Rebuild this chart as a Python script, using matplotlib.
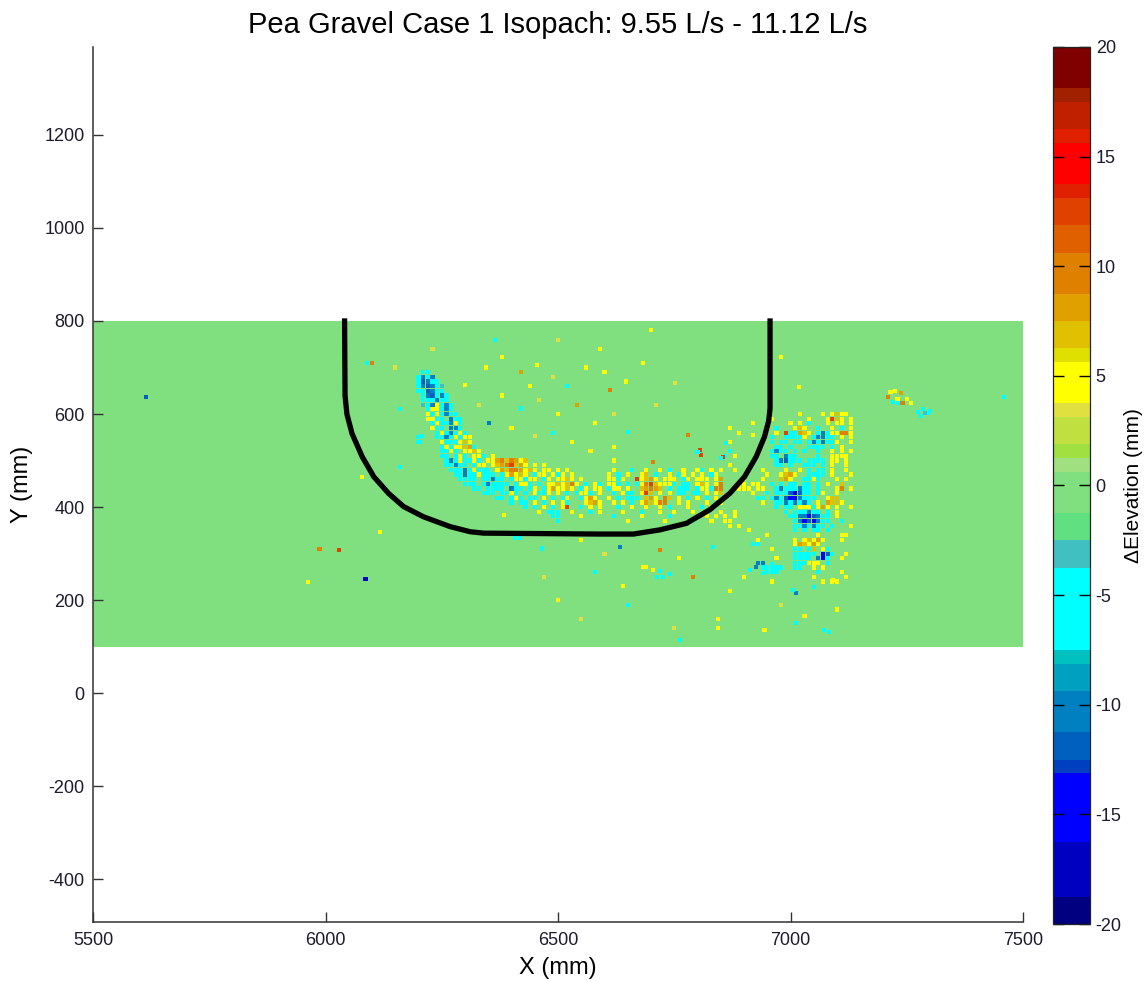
import numpy as np
import matplotlib
matplotlib.use("Agg")
import matplotlib.pyplot as plt
from matplotlib.colors import ListedColormap, Normalize
from matplotlib.cm import ScalarMappable

plt.rcParams['font.family'] = ['Liberation Sans', 'DejaVu Sans']
plt.rcParams['axes.unicode_minus'] = False

# ---------------------------------------------------------------- labels
title = "Pea Gravel Case 1 Isopach: 9.55 L/s - 11.12 L/s"
x_label = "X (mm)"
y_label = "Y (mm)"
cbar_label = "\u0394Elevation (mm)"
x_ticks = [5500, 6000, 6500, 7000, 7500]
y_ticks = [-400, -200, 0, 200, 400, 600, 800, 1000, 1200]
cbar_ticks = [-20, -15, -10, -5, 0, 5, 10, 15, 20]
x_limits = [5500, 7500]
y_limits = [-492, 1389]
z_limits = [-20, 20]

# ---------------------------------------------------------------- survey extent
field_x = [5500, 7500]
field_y = [100, 800]

# ---------------------------------------------------------------- flume wall (mm)
wall_x = [6041, 6042, 6046, 6057, 6079, 6104, 6136, 6168, 6211, 6268, 6311,
          6340, 6590, 6662, 6719, 6776, 6826, 6869, 6901, 6926, 6944, 6953,
          6956, 6956]
wall_y = [800, 640, 600, 558, 508, 465, 429, 401, 379, 358, 347,
          344, 342, 342, 351, 365, 394, 429, 465, 508, 551, 585,
          612, 800]

# ---------------------------------------------------------------- colour scale (64 steps)
scale_colors = ['#000080', '#0000C0', '#0000FF', '#0040C0', '#0060C0', '#0080C0',
                '#00A0C0', '#00C0C0', '#00FFFF', '#40C0C0', '#60E080', '#80E080',
                '#A0E080', '#A0E040', '#C0E040', '#E0E040', '#FFFF00', '#E0E000',
                '#E0C000', '#E0A000', '#E08000', '#E06000', '#E04000', '#E02000',
                '#FF0000', '#E02000', '#C02000', '#A02000', '#800000']
scale_counts = [2, 4, 5, 1, 2, 3, 2, 1, 6, 2, 2, 3, 1, 1, 2, 1, 3, 1, 2, 2, 3,
                2, 2, 1, 3, 1, 2, 1, 3]

# elevation change (mm) for each symbol of the cell maps
code_values = {'c': -5.0, 't': -3.0, 'm': -8.5, 'b': -10.0, 'B': -12.0,
               'd': -14.0, 'n': -17.0, 'g': 1.0, 'p': 3.4, 'y': 4.5,
               'o': 7.0, 'a': 8.0, 'r': 9.5, 'R': 12.5}
cell = 10  # mm

# scour/deposit band along the inner bend: top-left corner (x, y) in mm
head_origin = (6200, 690)
head_rows = [
    ".cc",
    "cbcb",
    "cBbcc",
    "cbBbct",
    "ccBbcc",
    ".cbBcbc",
    ".cccbcc",
    ".tcbycbc",
    "..cyycbc",
    "..ycycbcc",
    "..yycc.bcc",
    "...cyccbyc",
    "...ycc.bbc",
    "....cycbcyc",
    "c...ccbcycyy",
    "c....ycccyoy",
    ".....cycyyoac",
    ".....ccyc.yyoy",
    ".....cc.cyc.yyc.y",
    "......cbcyccyc.yyarorayo",
    "......ccbcc.cyy.yoarRoay.y.y",
    ".......cccbcyccc.yaorrayoy.yy.y.y",
    "........ccbccyccc.cyayoy.cyy.ycy.y",
    ".........cccc.ccbcc.cyycyy.cy.yyoy.y",
    "..........ccc.cbcccc.cyyc.c.yyoyory.c.yc",
    "............cc.cccc.bcc.cy.cyayyoy.cy.yy",
    "..............ccc.ccyc.c.yccy.y.c.cyyc.y",
    ".................cc.cyc.cc.y.c.cy..cyay.",
    "....................c.cc.y.c.y.yc...yoay",
    ".......................c.c.y.c.yR..c.y.y",
    "..........................y.ccc..y...c.y",
    ".............................cc....y....",
    "..............................c.........",
]

tail_origin = (6610, 480)
tail_rows = [
    ".y...c..y..y.c..y..yc.y.y",
    "y.c.y..yo.c..y.cy.y.y.cy.",
    "yycy..Ryoay.yyy.cy.yyy.ya",
    "yyc.c.cyrRoyyyc.cc.yoy.yr",
    "cyy.y..oarao.c.ccc.cyycrr",
    ".c.ycc.yRo.y.y.cc.cc.y.yo",
    "y.c.ccc.oay.ro.y.c.y.c.y.",
    ".y.y.c.yaoyrr..y.y...y..y",
    "..c..y..y..y.c...y..c.y..",
    "...y...c...y..y...y.....y",
    ".c.....y.....c.......y.y.",
    "....y.......y.....c...y..",
]

right_origin = (6860, 600)
right_rows = [
    "................y....y.yoyy",
    "..........y.......y...yRoy.y",
    "......y.......y.y.c...y.yy.y",
    ".y.........c...yoy..c..y.c.y",
    "...y.......y.Rccaoy.cbcyyrry",
    "..........c..ccccy.cbbcc.y.y",
    ".y........c.cc.cc.cbcbccy..y",
    "...........cc.c...cccc.c.y..",
    ".c........cbcc.c.c..c..y.y.y",
    "c.y.......cc.bcc....c..yyyy.",
    "...........cbBccc.cccc.yy.y.",
    ".y.........cc.c..ccc.c.y..y.",
    "..y.....y....y..y.c.cc.y..y.",
    ".........y..yoay..cccc.y...y",
    "....y...y...oay..ccyc...y.y.",
    "...yy.yy..c.c.cc.cc.c.y..o..",
    "...yyy.yy..cbcccbcc.c...yr.y",
    "......y..c.cccBdBcc.cy..y...",
    ".......cc.cbcBddbccc..yoo...",
    "........y..ccbcbcbc.y.aooy..",
    "...........c.cc.yyycyay.y..y",
    "..y..........c.cccbcc.c.y...",
    "y.y...........ccbbdBbcc.y...",
    "yy.............cbdBdbcc..c..",
    ".y.y...........ccbcbcc.c...y",
    ".....y.........c.c.cc.c.....",
    ".........y..........y....yy.",
    ".......y.......y.yoyay...y..",
    "......cc.......yaoyay.......",
    "..........y....cc.co.yc.....",
    "...............ccccc.dBc..y.",
    "...........y...cccc.bdc..y..",
    ".......bb......cccyyy.c.....",
    "........ccccc..cc..y.y......",
    ".........ccc........c....y..",
    "....y..............y......y.",
    "..........y..........y.yy...",
]

# isolated specks above the band and inside the bend
upper_x = [6345, 6380, 6420, 6455, 6490, 6520, 6560, 6600, 6612, 6380, 6420,
           6460, 6500, 6540, 6580, 6620, 6650, 6400, 6450, 6490, 6530, 6570,
           6620, 6352, 6330, 6300, 6365, 6500, 6700, 6683, 6647, 6751, 6805,
           6808, 6855, 6862, 6919, 6980, 7019, 6800, 6780, 6705, 6851, 6230,
           6150, 6160, 6090, 6100, 6440, 6590, 6710, 6620]
upper_y = [700, 722, 690, 706, 680, 660, 700, 690, 652, 640, 612,
           630, 600, 620, 580, 600, 562, 570, 552, 560, 540, 520,
           530, 580, 620, 662, 760, 760, 780, 709, 670, 666, 523,
           512, 508, 537, 555, 723, 659, 519, 555, 497, 505, 740,
           700, 610, 710, 710, 660, 740, 620, 500]
upper_v = [4.5, 4.5, 8.0, 4.5, 3.4, -5.0, 4.5, 4.5, 9.5, 4.5, -5.0,
           3.4, 4.5, 8.0, 4.5, 3.4, -5.0, 4.5, 3.4, -5.0, 4.5, 4.5,
           4.5, -10.0, 3.4, 4.5, -5.0, 3.4, 4.5, 4.5, 4.5, 3.4, 12.5,
           12.5, 12.5, -5.0, 4.5, 4.5, 4.5, -5.0, 9.5, 9.5, -5.0, 3.4,
           3.4, -5.0, -5.0, 9.5, 4.5, 4.5, 3.4, 4.5]

# isolated specks below the band and elsewhere on the bed
lower_x = [6712, 6726, 6740, 6720, 6690, 6705, 6790, 6760, 6833, 6912, 6925,
           6940, 6960, 6633, 6719, 6683, 7012, 7030, 6762, 6418, 6408, 6383,
           6465, 6029, 6118, 6079, 6161, 6204, 6207, 6086, 5963, 5987, 5614,
           7459, 7012, 7005, 7051, 7091, 7072, 7082, 6944, 6844, 6844, 6550,
           6600, 6580, 6640, 6470, 6500, 6550, 6870, 6980, 7100, 6650, 6750]
lower_y = [250, 250, 257, 262, 272, 265, 250, 290, 315, 265, 272,
           258, 278, 315, 308, 272, 150, 165, 114, 333, 333, 383,
           311, 307, 347, 465, 487, 540, 553, 245, 239, 310, 637,
           637, 215, 222, 229, 243, 135, 132, 135, 160, 140, 330,
           300, 260, 230, 250, 200, 160, 220, 190, 180, 190, 140]
lower_v = [-5.0, -5.0, -5.0, -5.0, 4.5, 4.5, 9.5, 4.5, -5.0, -5.0, -10.0,
           -5.0, -5.0, -10.0, 9.5, 4.5, -5.0, 4.5, -5.0, -5.0, -5.0, 4.5,
           -5.0, 12.5, 4.5, 4.5, -5.0, -5.0, -5.0, -17.0, 4.5, 9.5, -12.0,
           -5.0, -10.0, -5.0, -5.0, 4.5, -5.0, -5.0, 4.5, 4.5, 4.5, 4.5,
           3.4, -5.0, 4.5, 3.4, 4.5, 3.4, 4.5, 3.4, 4.5, -5.0, 3.4]

# small deposit and scour pair downstream of the bend
patch_x = [7209, 7215, 7225, 7237, 7241, 7250, 7260, 7230, 7220, 7232,
           7275, 7285, 7295, 7280, 7290, 7300]
patch_y = [637, 647, 650, 645, 623, 632, 624, 632, 626, 624,
           605, 610, 602, 596, 603, 606]
patch_v = [9.5, 4.5, 4.5, 8.0, 9.5, 4.5, 4.5, 4.5, -5.0, -5.0,
           -5.0, -5.0, -5.0, -5.0, -3.0, -5.0]


def cells_from_rows(origin, rows):
    xs, ys, vs = [], [], []
    x0, y0 = origin
    for j, row in enumerate(rows):
        for i, ch in enumerate(row):
            if ch in code_values:
                xs.append(x0 + cell * i)
                ys.append(y0 - cell * j)
                vs.append(code_values[ch])
    return xs, ys, vs


# ---------------------------------------------------------------- figure
fig = plt.figure(figsize=(11.47, 9.81), dpi=100)
ax = fig.add_axes([0.0811, 0.0601, 0.8108, 0.8920])
cax = fig.add_axes([0.9181, 0.0581, 0.0323, 0.8940])

colors = [c for c, n in zip(scale_colors, scale_counts) for _ in range(n)]
cmap = ListedColormap(colors)
norm = Normalize(vmin=z_limits[0], vmax=z_limits[1])

# undisturbed bed
ax.pcolormesh(field_x, field_y, np.zeros((1, 1)), cmap=cmap, norm=norm,
              shading='flat', zorder=1)

# elevation change cells
all_x, all_y, all_v = [], [], []
for origin, rows in [(head_origin, head_rows), (tail_origin, tail_rows),
                     (right_origin, right_rows)]:
    xs, ys, vs = cells_from_rows(origin, rows)
    all_x += xs
    all_y += ys
    all_v += vs
all_x += upper_x + lower_x + patch_x
all_y += upper_y + lower_y + patch_y
all_v += upper_v + lower_v + patch_v

ax.scatter(all_x, all_y, c=all_v, cmap=cmap, norm=norm, marker='s',
           s=9, linewidths=0, zorder=2)

# flume wall
ax.plot(wall_x, wall_y, color='black', lw=3.8, solid_joinstyle='round',
        zorder=3)

ax.set_xlim(x_limits)
ax.set_ylim(y_limits)
ax.set_xticks(x_ticks)
ax.set_yticks(y_ticks)
for side in ['top', 'right']:
    ax.spines[side].set_visible(False)
for side in ['left', 'bottom']:
    ax.spines[side].set_color('#333333')
    ax.spines[side].set_linewidth(1.1)
ax.tick_params(direction='in', length=7, width=1.0, color='#333333',
               labelsize=13, labelcolor='#1c1c2c')
ax.tick_params(axis='y', pad=6)
ax.tick_params(axis='x', pad=7)
ax.set_title(title, fontsize=21, pad=10)
ax.set_xlabel(x_label, fontsize=17, labelpad=6)
ax.set_ylabel(y_label, fontsize=17, labelpad=8)

cb = fig.colorbar(ScalarMappable(norm=norm, cmap=cmap), cax=cax,
                  ticks=cbar_ticks)
cb.outline.set_linewidth(0.9)
cb.outline.set_edgecolor('#222222')
cax.tick_params(direction='in', length=8, width=1.0, left=True, right=True,
                labelleft=False, labelright=True, labelsize=13,
                labelcolor='#1c1c2c', pad=4)
cb.set_label(cbar_label, fontsize=15, rotation=90, labelpad=2)

fig.savefig('out.png', dpi=100)
